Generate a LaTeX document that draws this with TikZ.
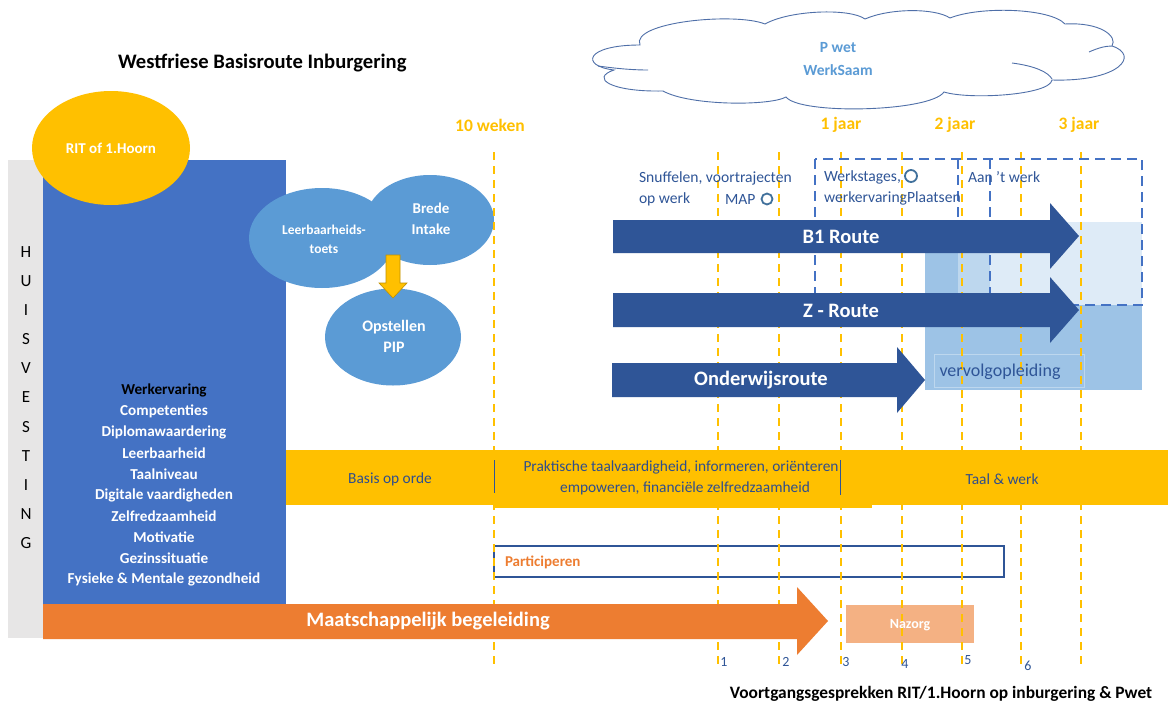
\documentclass[tikz,border=0pt]{standalone}
\usepackage{fontspec}
\setmainfont{Carlito}
\usetikzlibrary{shapes.geometric}
\definecolor{cGold}{HTML}{FFC000}
\definecolor{cGoldD}{HTML}{BF9000}
\definecolor{cBlueL}{HTML}{4472C4}
\definecolor{cBlueM}{HTML}{5B9BD5}
\definecolor{cBlueD}{HTML}{2F5597}
\definecolor{cOrange}{HTML}{ED7D31}
\definecolor{cNazorg}{HTML}{F4B183}
\definecolor{cGray}{HTML}{E7E6E6}
\definecolor{cMed}{HTML}{9DC3E6}
\definecolor{cMid}{HTML}{BDD7EE}
\definecolor{cVLight}{HTML}{DEEBF7}
\definecolor{cCloud}{HTML}{4F6FA8}
\definecolor{cCircle}{HTML}{41719C}
\definecolor{cText}{HTML}{2F4E8C}
\tikzset{
  fs/.style={font=\fontsize{#1}{#1}\selectfont},
  fsb/.style={font=\bfseries\fontsize{#1}{#1}\selectfont},
  ydash/.style={draw=cGold, line width=1.8pt, dash pattern=on 8pt off 6pt},
  bdash/.style={draw=cBlueL, line width=2.4pt, dash pattern=on 10pt off 6pt},
  txt/.style={inner sep=0pt, outer sep=0pt},
  blob/.style={ellipse, fill=cBlueM, inner sep=0pt},
  timelbl/.style={txt, fsb=17.5, text=cGold},
  listlbl/.style={txt, fsb=15.2, text=white},
  numlbl/.style={txt, fs=14, text=cBlueD},
  letter/.style={txt, fs=17, text=black},
  bandlbl/.style={txt, fs=15.4, text=cText},
  toplbl/.style={txt, fs=15.6, text=cBlueD, anchor=west},
  cloudline/.style={draw=cCloud, line width=0.9pt}
}
\begin{document}
\begin{tikzpicture}[x=1pt,y=-1pt]
\useasboundingbox (0,0) rectangle (1168,707);
\fill[white] (0,0) rectangle (1168,707);

% left column
\fill[cGray] (8,160) rectangle (43,638);
\fill[cBlueL] (43,160) rectangle (286,605);
\foreach \l [count=\i from 0] in {H,U,I,S,V,E,S,T,I,N,G}
  \node[letter] (hv\i) at (26,252+29.1*\i) {\l};

\node[ellipse, fill=cGold, minimum width=158pt, minimum height=114pt, inner sep=0pt,
      text=white, fsb=15] (rit) at (111,148) {RIT of 1.Hoorn};

\node[txt, fsb=15.2, text=black] (w0) at (164,390) {Werkervaring};
\foreach \t [count=\i] in {Competenties,Diplomawaardering,Leerbaarheid,Taalniveau,Digitale vaardigheden,Zelfredzaamheid,Motivatie,Gezinssituatie,Fysieke \& Mentale gezondheid}
  \node[listlbl] (w\i) at (164,390+21*\i) {\t};

% intake blobs
\node[blob, minimum width=146pt, minimum height=100pt] (leer) at (322,238) {};
\node[blob, minimum width=128pt, minimum height=90pt] (brede) at (430,220) {};
\node[blob, minimum width=136pt, minimum height=97pt] (pip) at (393,337) {};
\node[txt, fsb=13.5, text=white] (leer1) at (324,230) {Leerbaarheids-};
\node[txt, fsb=13.5, text=white] (leer2) at (324,249) {toets};
\node[txt, fsb=15, text=white] (br1) at (431,208) {Brede};
\node[txt, fsb=15, text=white] (br2) at (431,229) {Intake};
\node[txt, fsb=16, text=white] (pip1) at (394,327) {Opstellen};
\node[txt, fsb=16, text=white] (pip2) at (394,347) {PIP};
\filldraw[fill=cGold, draw=cGoldD, line width=0.6pt]
  (386,255) -- (400,255) -- (400,283) -- (407,283) -- (393,298) -- (379,283) -- (386,283) -- cycle;

% cloud
\filldraw[cloudline, fill=white]
  (640,45) .. controls (630,22) and (735,12) .. (765,24)
  .. controls (790,10) and (850,8) .. (865,19)
  .. controls (890,8) and (935,8) .. (950,18)
  .. controls (980,6) and (1050,8) .. (1065,24)
  .. controls (1100,22) and (1118,36) .. (1112,46)
  .. controls (1140,55) and (1120,82) .. (1052,80)
  .. controls (1050,95) and (970,100) .. (944,92)
  .. controls (930,112) and (800,115) .. (786,97)
  .. controls (770,106) and (690,106) .. (663,91)
  .. controls (610,92) and (590,78) .. (614,70)
  .. controls (580,66) and (585,45) .. (640,45) -- cycle;
\draw[cloudline] (598,66) .. controls (620,69) and (635,70) .. (648,70);
\draw[cloudline] (1012,63) .. controls (1035,66) and (1048,72) .. (1052,79);
\draw[cloudline] (1089,52) .. controls (1098,48) and (1105,46) .. (1112,46);
\node[txt, fsb=15.5, text=cBlueM] (pwet) at (838,48) {P wet};
\node[txt, fsb=15.5, text=cBlueM] (werksaam) at (838,70) {WerkSaam};

% title and time labels
\node[txt, fsb=20.6, text=black, anchor=west] (title) at (118,63) {Westfriese Basisroute Inburgering};
\node[timelbl] (t10) at (490,125) {10 weken};
\node[timelbl] (t1) at (841,125) {1 jaar};
\node[timelbl] (t2) at (955,125) {2 jaar};
\node[timelbl] (t3) at (1079,125) {3 jaar};

% light blue regions
\fill[cMed] (925,253) rectangle (1142,390);
\fill[cMid] (958,253) rectangle (990,305);
\fill[cVLight] (990,222) rectangle (1142,305);
\draw[cMid, line width=0.6pt] (934,354) rectangle (1084,387);

% Nazorg and Participeren
\fill[cNazorg] (846,605) rectangle (974,643);
\draw[cBlueD, line width=1.2pt] (494,546) rectangle (1004,577);

% yellow dashed time lines
\foreach \x in {494,718,779,841,902,962,1021,1081}
  \draw[ydash] (\x,152) -- (\x,667);

% blue dashed frame
\draw[bdash] (815,159) rectangle (1142,305);
\draw[bdash] (958,159) -- (958,225);
\draw[bdash] (990,159) -- (990,293);

% route arrows
\fill[cBlueD] (613,220) -- (1050,220) -- (1050,203) -- (1079,236) -- (1050,269) -- (1050,253) -- (613,253) -- cycle;
\fill[cBlueD] (613,293) -- (1050,293) -- (1050,277) -- (1079,310) -- (1050,343) -- (1050,327) -- (613,327) -- cycle;
\fill[cBlueD] (612,363) -- (897,363) -- (897,347) -- (925,380) -- (897,413) -- (897,397) -- (612,397) -- cycle;
\node[txt, fsb=20.5, text=white] (b1) at (841,237) {B1 Route};
\node[txt, fsb=20.5, text=white] (zr) at (841,311) {Z - Route};
\node[txt, fsb=20.5, text=white] (ow) at (761,380) {Onderwijsroute};
\node[txt, fs=18, text=cBlueD] (vervolg) at (1000,372) {vervolgopleiding};

% yellow band
\fill[cGold] (286,450) rectangle (1168,505);
\fill[cGold] (494,505) rectangle (872,508);
\draw[cBlueD, line width=1pt] (494,460) -- (494,493);
\draw[cBlueD, line width=1pt] (840,460) -- (840,495);
\node[bandlbl] (basis) at (390,479) {Basis op orde};
\node[bandlbl] (prak1) at (681,467) {Praktische taalvaardigheid, informeren, oriënteren};
\node[bandlbl] (prak2) at (685,488) {empoweren, financiële zelfredzaamheid};
\node[bandlbl] (taal) at (1002,479) {Taal \& werk};

\node[txt, fsb=15, text=cOrange, anchor=west] (part) at (505,562) {Participeren};
\node[txt, fsb=14, text=white] (nazorg) at (910,625) {Nazorg};

% orange arrow
\fill[cOrange] (43,604) -- (797,604) -- (797,587) -- (828,621) -- (797,655) -- (797,639) -- (43,639) -- cycle;
\node[txt, fsb=20.5, text=white] (maat) at (428,621) {Maatschappelijk begeleiding};

% top-right texts
\node[toplbl] (snuf1) at (639,178) {Snuffelen, voortrajecten};
\node[toplbl] (snuf2) at (639,199) {op werk};
\node[toplbl] (map) at (725,199) {MAP};
\node[circle, draw=cCircle, line width=1.8pt, minimum size=11pt, inner sep=0pt] (c1) at (767,199) {};
\node[toplbl] (werk1) at (824,177) {Werkstages,};
\node[circle, draw=cCircle, line width=1.8pt, minimum size=12pt, inner sep=0pt] (c2) at (911,176) {};
\node[toplbl] (werk2) at (824,198) {werkervaringPlaatsen};
\node[toplbl] (aan) at (968,177) {Aan 't werk};

% numbers and bottom caption
\node[numlbl] (n1) at (724,662) {1};
\node[numlbl] (n2) at (786,662) {2};
\node[numlbl] (n3) at (846,662) {3};
\node[numlbl] (n4) at (905,664) {4};
\node[numlbl] (n5) at (968,660) {5};
\node[numlbl] (n6) at (1028,666) {6};
\node[txt, fsb=17.4, text=black] (voort) at (941,694) {Voortgangsgesprekken RIT/1.Hoorn op inburgering \& Pwet};
\end{tikzpicture}
\end{document}
